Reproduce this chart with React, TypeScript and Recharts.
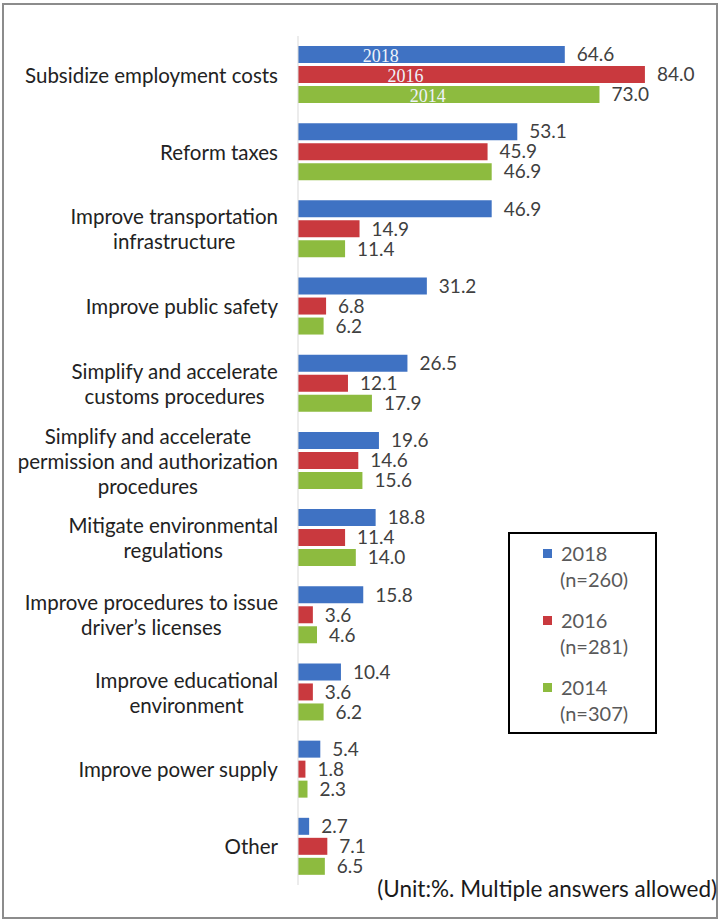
import React from "react";
import { Bar, BarChart, LabelList, XAxis, YAxis } from "recharts";

const categories = [
  "Subsidize employment costs",
  "Reform taxes",
  "Improve transportation\ninfrastructure",
  "Improve public safety",
  "Simplify and accelerate\ncustoms procedures",
  "Simplify and accelerate\npermission and authorization\nprocedures",
  "Mitigate environmental\nregulations",
  "Improve procedures to issue\ndriver’s licenses",
  "Improve educational\nenvironment",
  "Improve power supply",
  "Other",
];

const values2018 = [64.6, 53.1, 46.9, 31.2, 26.5, 19.6, 18.8, 15.8, 10.4, 5.4, 2.7];
const values2016 = [84.0, 45.9, 14.9, 6.8, 12.1, 14.6, 11.4, 3.6, 3.6, 1.8, 7.1];
const values2014 = [73.0, 46.9, 11.4, 6.2, 17.9, 15.6, 14.0, 4.6, 6.2, 2.3, 6.5];

const years = ["2018", "2016", "2014"];
const sampleSizes = ["(n=260)", "(n=281)", "(n=307)"];
const colors = ["#3F72C3", "#C9393E", "#8DBB3F"];
const seriesKeys = ["y2018", "y2016", "y2014"];

const unitNote = "(Unit:%. Multiple answers allowed)";

const data = categories.map((name, i) => ({
  name,
  y2018: values2018[i],
  y2016: values2016[i],
  y2014: values2014[i],
}));

const FONT = "Lato, 'Open Sans', sans-serif";
const TICK_FONT_SIZE = 20.5;

let ctx: CanvasRenderingContext2D | null = null;
const measure = (text: string) => {
  if (!ctx) ctx = document.createElement("canvas").getContext("2d");
  if (!ctx) return text.length * 9;
  ctx.font = `${TICK_FONT_SIZE}px Lato`;
  return ctx.measureText(text).width;
};

const CategoryTick = (props: any) => {
  const { x, y, payload } = props;
  const lines: string[] = String(payload.value).split("\n");
  const w = Math.max(...lines.map(measure));
  const cx = x - w / 2;
  const lineH = 25;
  const start = y - ((lines.length - 1) * lineH) / 2;
  return (
    <g>
      {lines.map((l, i) => (
        <text
          key={i}
          x={cx}
          y={start + i * lineH}
          textAnchor="middle"
          dominantBaseline="central"
          fontFamily={FONT}
          fontSize={TICK_FONT_SIZE}
          fill="#222"
        >
          {l}
        </text>
      ))}
    </g>
  );
};

// faint year names drawn inside the first group of bars
const yearInside = (year: string, frac: number) => (props: any) => {
  const { x, y, width, height, index } = props;
  if (index !== 0) return null;
  return (
    <text
      x={x + width * frac}
      y={y + height / 2 + 1}
      textAnchor="middle"
      dominantBaseline="central"
      fontFamily="'Liberation Serif', serif"
      fontSize={18}
      fill="#eef2fa"
    >
      {year}
    </text>
  );
};
const insideFrac = [0.31, 0.31, 0.43];

const App = () => {
  return (
    <div
      style={{
        position: "absolute",
        left: 0,
        top: 0,
        width: 721,
        height: 922,
        background: "#fff",
        overflow: "hidden",
      }}
    >
      <div
        style={{
          position: "absolute",
          left: 2,
          top: 3,
          width: 712,
          height: 912,
          border: "2px solid #8c8c8c",
        }}
      />
      <BarChart
        width={721}
        height={922}
        data={data}
        layout="vertical"
        margin={{ top: 36, right: 10, bottom: 37, left: 0 }}
        barSize={17}
        barGap={3}
      >
        <XAxis type="number" domain={[0, 100]} hide />
        <YAxis
          type="category"
          dataKey="name"
          width={298}
          tickLine={false}
          tickSize={0}
          tickMargin={20}
          axisLine={{ stroke: "#d9d9d9" }}
          tick={<CategoryTick />}
          interval={0}
        />
        {seriesKeys.map((k, i) => (
          <Bar key={k} dataKey={k} fill={colors[i]} isAnimationActive={false}>
            <LabelList
              dataKey={k}
              position="right"
              offset={12}
              formatter={(v: any) => Number(v).toFixed(1)}
              style={{ fill: "#404040", fontSize: 19, fontFamily: FONT }}
            />
            <LabelList dataKey={k} content={yearInside(years[i], insideFrac[i])} />
          </Bar>
        ))}
      </BarChart>
      <div
        style={{
          position: "absolute",
          left: 508,
          top: 532,
          width: 145,
          height: 198,
          border: "2px solid #000",
          background: "#fff",
          fontFamily: FONT,
          fontSize: 20,
          color: "#595959",
        }}
      >
        {years.map((yr, i) => (
          <div
            key={yr}
            style={{ position: "absolute", left: 33, top: 6 + i * 67, lineHeight: "26px" }}
          >
            <div style={{ display: "flex", alignItems: "center" }}>
              <span
                style={{
                  width: 9,
                  height: 9,
                  background: colors[i],
                  marginRight: 9,
                  display: "inline-block",
                }}
              />
              {yr}
            </div>
            <div style={{ paddingLeft: 17 }}>{sampleSizes[i]}</div>
          </div>
        ))}
      </div>
      <div
        style={{
          position: "absolute",
          right: 4,
          top: 875,
          fontFamily: FONT,
          fontSize: 22.5,
          color: "#1a1a1a",
          whiteSpace: "nowrap",
        }}
      >
        {unitNote}
      </div>
    </div>
  );
};

export default App;
